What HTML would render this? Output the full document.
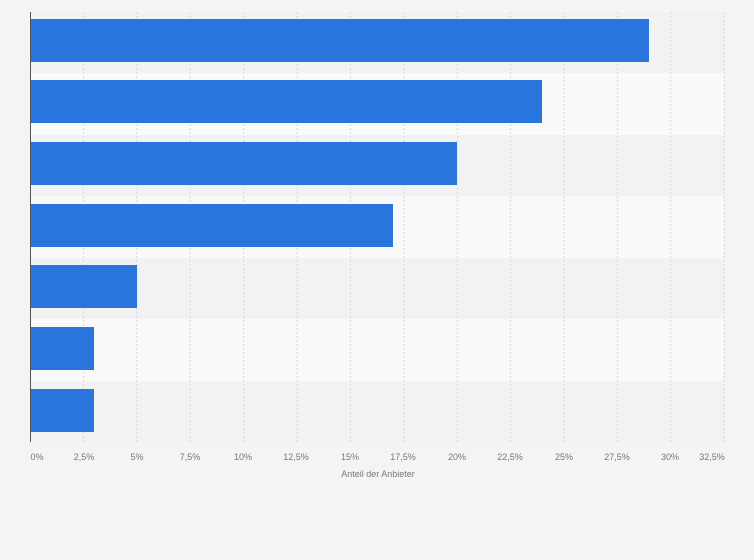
<!DOCTYPE html><html><head><style>body{margin:0;background:#f4f4f4;}</style></head><body>
<svg width="754" height="560" xmlns="http://www.w3.org/2000/svg" style="display:block;font-family:'Liberation Sans',sans-serif">
<rect width="754" height="560" fill="#f4f4f4"/>
<rect x="30" y="12" width="694" height="61" fill="#f2f2f2"/>
<rect x="30" y="73" width="694" height="62" fill="#f9f9f9"/>
<rect x="30" y="135" width="694" height="61" fill="#f2f2f2"/>
<rect x="30" y="196" width="694" height="62" fill="#f9f9f9"/>
<rect x="30" y="258" width="694" height="61" fill="#f2f2f2"/>
<rect x="30" y="319" width="694" height="62" fill="#f9f9f9"/>
<rect x="30" y="381" width="694" height="61" fill="#f2f2f2"/>
<g stroke="#d8d8d8" stroke-width="1" stroke-dasharray="2,2">
<line x1="83.4" y1="12" x2="83.4" y2="442"/><line x1="136.8" y1="12" x2="136.8" y2="442"/><line x1="190.2" y1="12" x2="190.2" y2="442"/><line x1="243.6" y1="12" x2="243.6" y2="442"/><line x1="297" y1="12" x2="297" y2="442"/><line x1="350.4" y1="12" x2="350.4" y2="442"/><line x1="403.8" y1="12" x2="403.8" y2="442"/><line x1="457.2" y1="12" x2="457.2" y2="442"/><line x1="510.6" y1="12" x2="510.6" y2="442"/><line x1="564" y1="12" x2="564" y2="442"/><line x1="617.4" y1="12" x2="617.4" y2="442"/><line x1="670.8" y1="12" x2="670.8" y2="442"/><line x1="724.2" y1="12" x2="724.2" y2="442"/>
</g>
<g fill="#2876dd">
<rect x="30" y="19" width="619" height="43"/>
<rect x="30" y="80" width="512" height="43"/>
<rect x="30" y="142" width="427" height="43"/>
<rect x="30" y="204" width="363" height="43"/>
<rect x="30" y="265" width="107" height="43"/>
<rect x="30" y="327" width="64" height="43"/>
<rect x="30" y="389" width="64" height="43"/>
</g>
<line x1="30.5" y1="12" x2="30.5" y2="442" stroke="#555" stroke-width="1"/>
<g fill="#777" font-size="9" text-anchor="middle">
<text x="37" y="460">0%</text><text x="84" y="460">2,5%</text><text x="137" y="460">5%</text><text x="190" y="460">7,5%</text><text x="243" y="460">10%</text><text x="296" y="460">12,5%</text><text x="350" y="460">15%</text><text x="403" y="460">17,5%</text><text x="457" y="460">20%</text><text x="510" y="460">22,5%</text><text x="564" y="460">25%</text><text x="617" y="460">27,5%</text><text x="670" y="460">30%</text><text x="712" y="460">32,5%</text>
<text x="378" y="477">Anteil der Anbieter</text>
</g>
</svg></body></html>
